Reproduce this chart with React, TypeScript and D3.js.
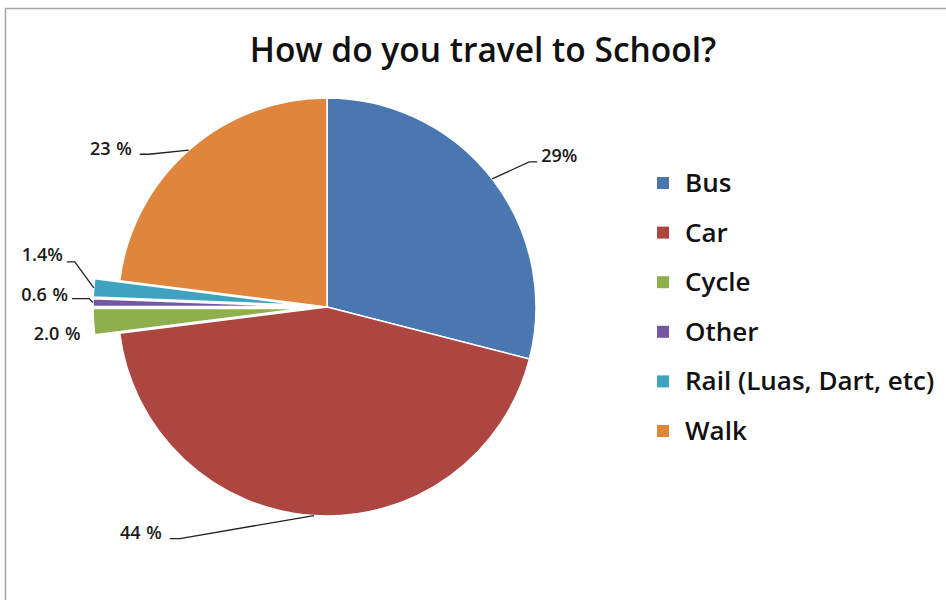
import React, { useEffect, useRef } from "react";
import * as d3 from "d3";

// chart data
const categories = ["Bus", "Car", "Cycle", "Other", "Rail (Luas, Dart, etc)", "Walk"];
const shares = [29, 44, 2.0, 0.6, 1.4, 23];
const shareLabels = ["29%", "44 %", "2.0 %", "0.6 %", "1.4%", "23 %"];
const colors = ["#4a77b0", "#ad4541", "#8eaf4c", "#7559a0", "#3fa3bf", "#e0853c"];
const exploded = [false, false, true, true, true, false];

// leader layout relative to the slice's outer mid point: elbow, line end, label anchor
const leaders = [
  { elbow: [37, -17], end: [45, -17], label: [49, -17], anchor: "start", line: true },
  { elbow: [-134, 23], end: [-144, 23], label: [-152, 23], anchor: "end", line: true },
  { elbow: [0, 0], end: [0, 0], label: [-13, 18], anchor: "end", line: false },
  { elbow: [-4, -4], end: [-21, -4], label: [-25, -2], anchor: "end", line: true },
  { elbow: [-19, -26], end: [-27, -26], label: [-31, -27], anchor: "end", line: true },
  { elbow: [-40, 4], end: [-49, 4], label: [-57, 5], anchor: "end", line: true },
];

const W = 946;
const H = 600;

const App: React.FC = () => {
  const svgRef = useRef<SVGSVGElement>(null);

  useEffect(() => {
    if (!svgRef.current) return;
    const svg = d3.select(svgRef.current);
    svg.selectAll("*").remove();

    const cx = 327;
    const cy = 307;
    const radius = 209;
    const explode = 25;

    // frame
    svg
      .append("rect")
      .attr("x", 5.5)
      .attr("y", 8.5)
      .attr("width", W + 20)
      .attr("height", H + 20)
      .attr("fill", "#fff")
      .attr("stroke", "#a6a6a6")
      .attr("stroke-width", 1.5);

    svg
      .append("text")
      .attr("x", 483)
      .attr("y", 62)
      .attr("text-anchor", "middle")
      .style("font-family", "'Open Sans', sans-serif")
      .style("font-weight", 600)
      .style("font-size", "33.5px")
      .style("fill", "#111")
      .text("How do you travel to School?");

    const pie = d3
      .pie<number>()
      .sort(null)
      .value((d) => d);
    const arcs = pie(shares);

    const arc = d3.arc<d3.PieArcDatum<number>>().innerRadius(0).outerRadius(radius);

    const g = svg.append("g").attr("transform", `translate(${cx},${cy})`);

    const offset = (d: d3.PieArcDatum<number>, i: number) => {
      if (!exploded[i]) return [0, 0];
      const a = (d.startAngle + d.endAngle) / 2;
      return [Math.sin(a) * explode, -Math.cos(a) * explode];
    };

    g.selectAll("path.slice")
      .data(arcs)
      .enter()
      .append("path")
      .attr("class", "slice")
      .attr("transform", (d, i) => {
        const [ox, oy] = offset(d, i);
        return `translate(${ox},${oy})`;
      })
      .attr("d", (d) => arc(d) as string)
      .attr("fill", (d, i) => colors[i])
      .attr("stroke", "#fff")
      .attr("stroke-width", 1.5)
      .attr("stroke-linejoin", "round");

    // data labels with leader lines
    arcs.forEach((d, i) => {
      const [ox, oy] = offset(d, i);
      const a = (d.startAngle + d.endAngle) / 2;
      const px = ox + Math.sin(a) * radius;
      const py = oy - Math.cos(a) * radius;
      const L = leaders[i];
      if (L.line) {
        g.append("path")
          .attr(
            "d",
            d3.line()([
              [px, py],
              [px + L.elbow[0], py + L.elbow[1]],
              [px + L.end[0], py + L.end[1]],
            ]) as string
          )
          .attr("fill", "none")
          .attr("stroke", "#222")
          .attr("stroke-width", 1.3);
      }
      g.append("text")
        .attr("x", px + L.label[0])
        .attr("y", py + L.label[1])
        .attr("text-anchor", L.anchor)
        .style("font-family", "'Open Sans', sans-serif")
        .style("font-weight", 600)
        .style("font-size", "18px")
        .style("word-spacing", "1px")
        .style("fill", "#1a1a1a")
        .text(shareLabels[i]);
    });

    // legend
    const legendY = d3
      .scalePoint<string>()
      .domain(categories)
      .range([183, 431]);

    const legend = svg
      .selectAll("g.legend")
      .data(categories)
      .enter()
      .append("g")
      .attr("class", "legend")
      .attr("transform", (c) => `translate(657,${legendY(c)})`);

    legend
      .append("rect")
      .attr("x", 0)
      .attr("y", -6)
      .attr("width", 12)
      .attr("height", 12)
      .attr("fill", (c, i) => colors[i]);

    legend
      .append("text")
      .attr("x", 28)
      .attr("y", 9)
      .style("font-family", "'Open Sans', sans-serif")
      .style("font-weight", 600)
      .style("font-size", "26px")
      .style("fill", "#111")
      .text((c) => c);
  }, []);

  return (
    <svg
      ref={svgRef}
      width={W}
      height={H}
      viewBox={`0 0 ${W} ${H}`}
      style={{ position: "absolute", left: 0, top: 0, background: "#fff" }}
    />
  );
};

export default App;
